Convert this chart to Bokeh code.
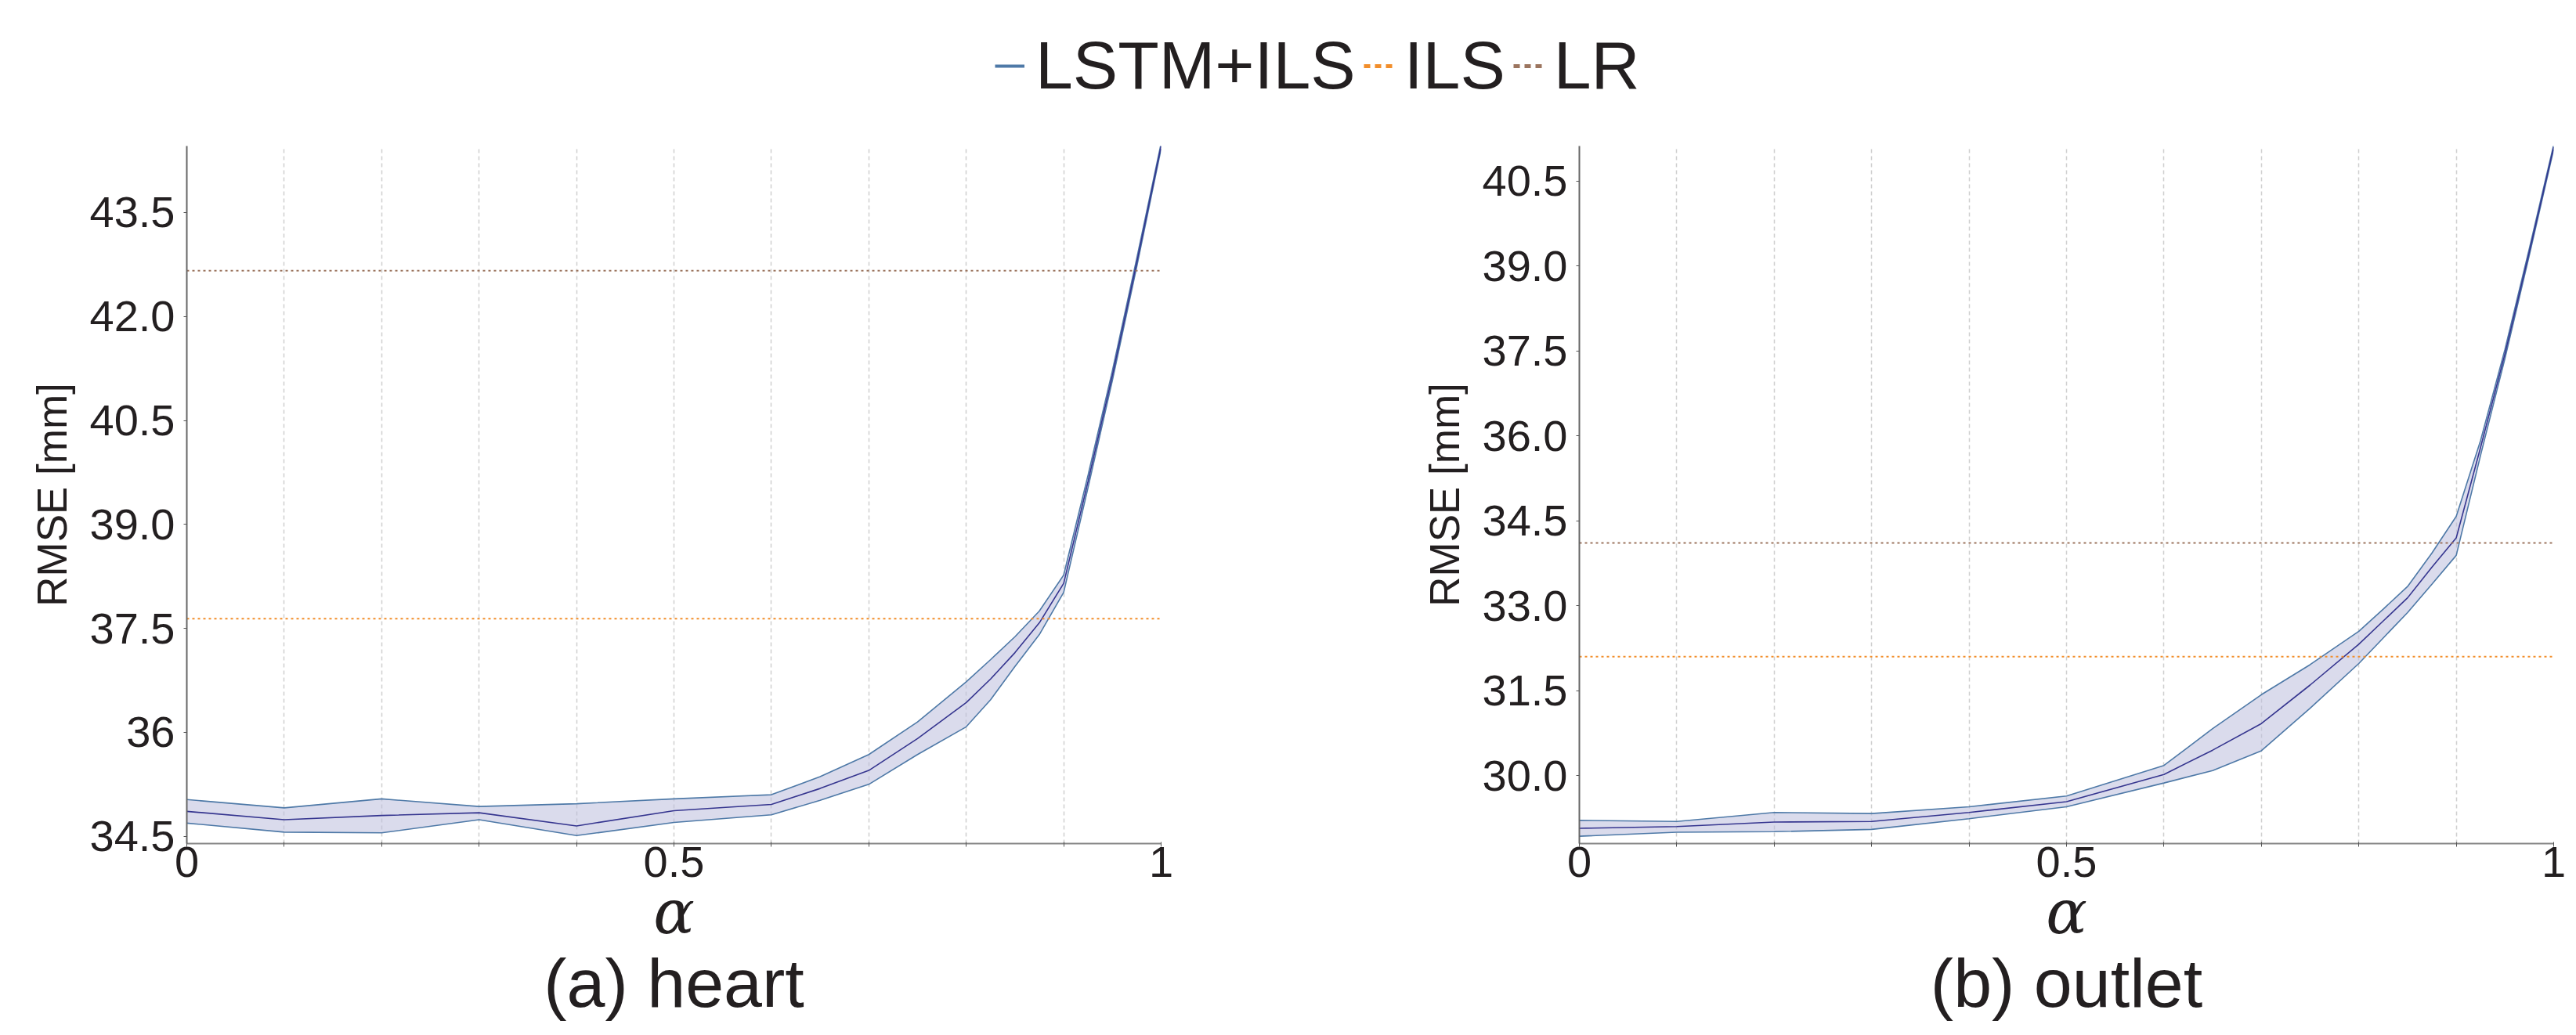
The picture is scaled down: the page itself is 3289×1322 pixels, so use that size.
from bokeh.plotting import figure
from bokeh.models import Range1d, FixedTicker, Legend, LegendItem, Title
from bokeh.layouts import column, row
from bokeh.embed import file_html
from bokeh.resources import INLINE

# ---------------- data ----------------
alpha = [0.0, 0.1, 0.2, 0.3, 0.4, 0.5, 0.6, 0.65, 0.7, 0.75, 0.8, 0.825, 0.85,
         0.875, 0.9, 0.925, 0.95, 0.975, 1.0]

heart_mean = [34.86, 34.74, 34.80, 34.84, 34.65, 34.87, 34.96, 35.19, 35.45, 35.91,
              36.43, 36.77, 37.15, 37.58, 38.15, 39.62, 41.15, 42.78, 44.46]
heart_upper = [35.03, 34.91, 35.04, 34.93, 34.97, 35.04, 35.10, 35.36, 35.68, 36.15,
               36.73, 37.05, 37.38, 37.75, 38.27, 39.71, 41.22, 42.84, 44.50]
heart_lower = [34.69, 34.56, 34.55, 34.74, 34.51, 34.70, 34.81, 35.02, 35.25, 35.68,
               36.08, 36.47, 36.95, 37.41, 38.02, 39.53, 41.08, 42.72, 44.42]
heart_ils = 37.64
heart_lr = 42.66

outlet_mean = [29.07, 29.10, 29.18, 29.19, 29.35, 29.54, 30.02, 30.45, 30.92, 31.60,
               32.32, 32.73, 33.14, 33.68, 34.20, 35.80, 37.45, 39.25, 41.10]
outlet_upper = [29.21, 29.19, 29.35, 29.33, 29.45, 29.64, 30.18, 30.83, 31.43, 31.96,
                32.55, 32.94, 33.34, 33.93, 34.58, 35.92, 37.53, 39.31, 41.14]
outlet_lower = [28.93, 29.00, 29.01, 29.05, 29.24, 29.45, 29.87, 30.09, 30.44, 31.19,
                31.98, 32.43, 32.88, 33.38, 33.89, 35.66, 37.37, 39.19, 41.06]
outlet_ils = 32.10
outlet_lr = 34.11

heart_yticks = [34.5, 36.0, 37.5, 39.0, 40.5, 42.0, 43.5]
heart_ytick_labels = ["34.5", "36", "37.5", "39.0", "40.5", "42.0", "43.5"]
outlet_yticks = [30.0, 31.5, 33.0, 34.5, 36.0, 37.5, 39.0, 40.5]
outlet_ytick_labels = ["30.0", "31.5", "33.0", "34.5", "36.0", "37.5", "39.0", "40.5"]

x_ticks = [0.0, 0.5, 1.0]
x_tick_labels = ["0", "0.5", "1"]
x_minor_ticks = [0.1, 0.2, 0.3, 0.4, 0.6, 0.7, 0.8, 0.9]

legend_labels = ["LSTM+ILS", "ILS", "LR"]
titles = ["(a) heart", "(b) outlet"]
y_label = "RMSE [mm]"
x_label = "α"

# ---------------- style ----------------
C_BLUE = "#4e79a7"
C_ORANGE = "#f28e2b"
C_BROWN = "#9c755f"
C_MEAN = "#35358f"
C_FILL = "#bcbddc"
C_TEXT = "#231f20"
FONT = "Liberation Sans"

HDR_H = 186
FIG_H = 1136
BORDER_BOTTOM = 245


def make_panel(mean, upper, lower, ils, lr, y0, y1, yticks, ylabels, title,
               width, border_left, border_right):
    p = figure(width=width, height=FIG_H, x_range=Range1d(0, 1),
               y_range=Range1d(y0, y1), output_backend="svg",
               toolbar_location=None, min_border_left=border_left,
               min_border_right=border_right, min_border_top=0,
               min_border_bottom=BORDER_BOTTOM)
    p.outline_line_color = None
    p.background_fill_color = "white"
    p.border_fill_color = "white"

    # band
    p.varea(x=alpha, y1=lower, y2=upper, fill_color=C_FILL, fill_alpha=0.55)
    p.line(alpha, upper, line_color=C_BLUE, line_width=1.6)
    p.line(alpha, lower, line_color=C_BLUE, line_width=1.6)
    p.line(alpha, mean, line_color=C_MEAN, line_width=1.6)

    # constant baselines
    xs = [alpha[0], alpha[-1]]
    p.line(xs, [ils, ils], line_color=C_ORANGE, line_width=2, line_dash="3 4")
    p.line(xs, [lr, lr], line_color=C_BROWN, line_width=2, line_dash="3 4")

    # x axis
    xa = p.xaxis[0]
    xa.ticker = FixedTicker(ticks=x_ticks, minor_ticks=x_minor_ticks)
    xa.major_label_overrides = dict(zip(x_ticks, x_tick_labels))
    xa.axis_line_color = "#858585"
    xa.axis_line_width = 2
    xa.major_tick_line_color = "#555555"
    xa.minor_tick_line_color = "#555555"
    xa.major_tick_out = 4
    xa.major_tick_in = 2
    xa.minor_tick_out = 4
    xa.minor_tick_in = 2
    xa.major_label_standoff = 0
    xa.major_label_text_font = FONT
    xa.major_label_text_font_size = "56px"
    xa.major_label_text_color = C_TEXT
    xa.axis_label = x_label
    xa.axis_label_text_font = "DejaVu Serif"
    xa.axis_label_text_font_style = "italic"
    xa.axis_label_text_font_size = "78px"
    xa.axis_label_text_color = C_TEXT
    xa.axis_label_standoff = -3

    # y axis
    ya = p.yaxis[0]
    ya.ticker = FixedTicker(ticks=yticks)
    ya.major_label_overrides = dict(zip(yticks, ylabels))
    ya.axis_line_color = "#666666"
    ya.axis_line_width = 2
    ya.major_tick_line_color = "#555555"
    ya.major_tick_out = 4
    ya.major_tick_in = 0
    ya.minor_tick_line_color = None
    ya.major_label_standoff = 11
    ya.major_label_text_font = FONT
    ya.major_label_text_font_size = "56px"
    ya.major_label_text_color = C_TEXT
    ya.axis_label = y_label
    ya.axis_label_text_font = FONT
    ya.axis_label_text_font_style = "normal"
    ya.axis_label_text_font_size = "53px"
    ya.axis_label_text_color = C_TEXT
    ya.axis_label_standoff = 16

    # grids
    p.xgrid.grid_line_color = "#cfcfcf"
    p.xgrid.grid_line_dash = "5 4"
    p.xgrid.grid_line_width = 1.5
    p.xgrid.minor_grid_line_color = "#cfcfcf"
    p.xgrid.minor_grid_line_dash = "5 4"
    p.xgrid.minor_grid_line_width = 1.5
    p.ygrid.grid_line_color = None

    t = Title(text=title, align="center", offset=-84, standoff=-18,
              text_font=FONT, text_font_size="88px",
              text_font_style="normal", text_color=C_TEXT)
    p.add_layout(t, "below")
    return p


p1 = make_panel(heart_mean, heart_upper, heart_lower, heart_ils, heart_lr,
                34.395, 44.46, heart_yticks, heart_ytick_labels, titles[0],
                1786, 238, 304)
p2 = make_panel(outlet_mean, outlet_upper, outlet_lower, outlet_ils, outlet_lr,
                28.80, 41.12, outlet_yticks, outlet_ytick_labels, titles[1],
                1503, 230, 29)

# ---------------- header with shared legend ----------------
hdr = figure(width=3289, height=HDR_H, x_range=Range1d(0, 1), y_range=Range1d(0, 1),
             output_backend="svg", toolbar_location=None,
             x_axis_location=None, y_axis_location=None,
             min_border_left=0, min_border_right=0, min_border_top=0,
             min_border_bottom=0)
hdr.outline_line_color = None
for g in hdr.grid:
    g.visible = False
# legend sample renderers (their data lie outside the header's range)
r1 = hdr.line(alpha, heart_mean, line_color=C_BLUE, line_width=4)
r2 = hdr.line(alpha, heart_mean, line_color=C_ORANGE, line_width=5, line_dash="8 6")
r3 = hdr.line(alpha, heart_mean, line_color=C_BROWN, line_width=5, line_dash="8 6")
leg = Legend(items=[LegendItem(label=legend_labels[0], renderers=[r1]),
                    LegendItem(label=legend_labels[1], renderers=[r2]),
                    LegendItem(label=legend_labels[2], renderers=[r3])],
             orientation="horizontal", location=(1270, 53),
             glyph_width=38, glyph_height=20, label_standoff=14, spacing=10,
             padding=0, margin=0, border_line_color=None,
             background_fill_alpha=0, label_text_font=FONT,
             label_text_font_size="86px", label_text_color=C_TEXT)
hdr.add_layout(leg)

layout = column(hdr, row(p1, p2))

with open("out.html", "w") as f:
    f.write(file_html(layout, INLINE))
